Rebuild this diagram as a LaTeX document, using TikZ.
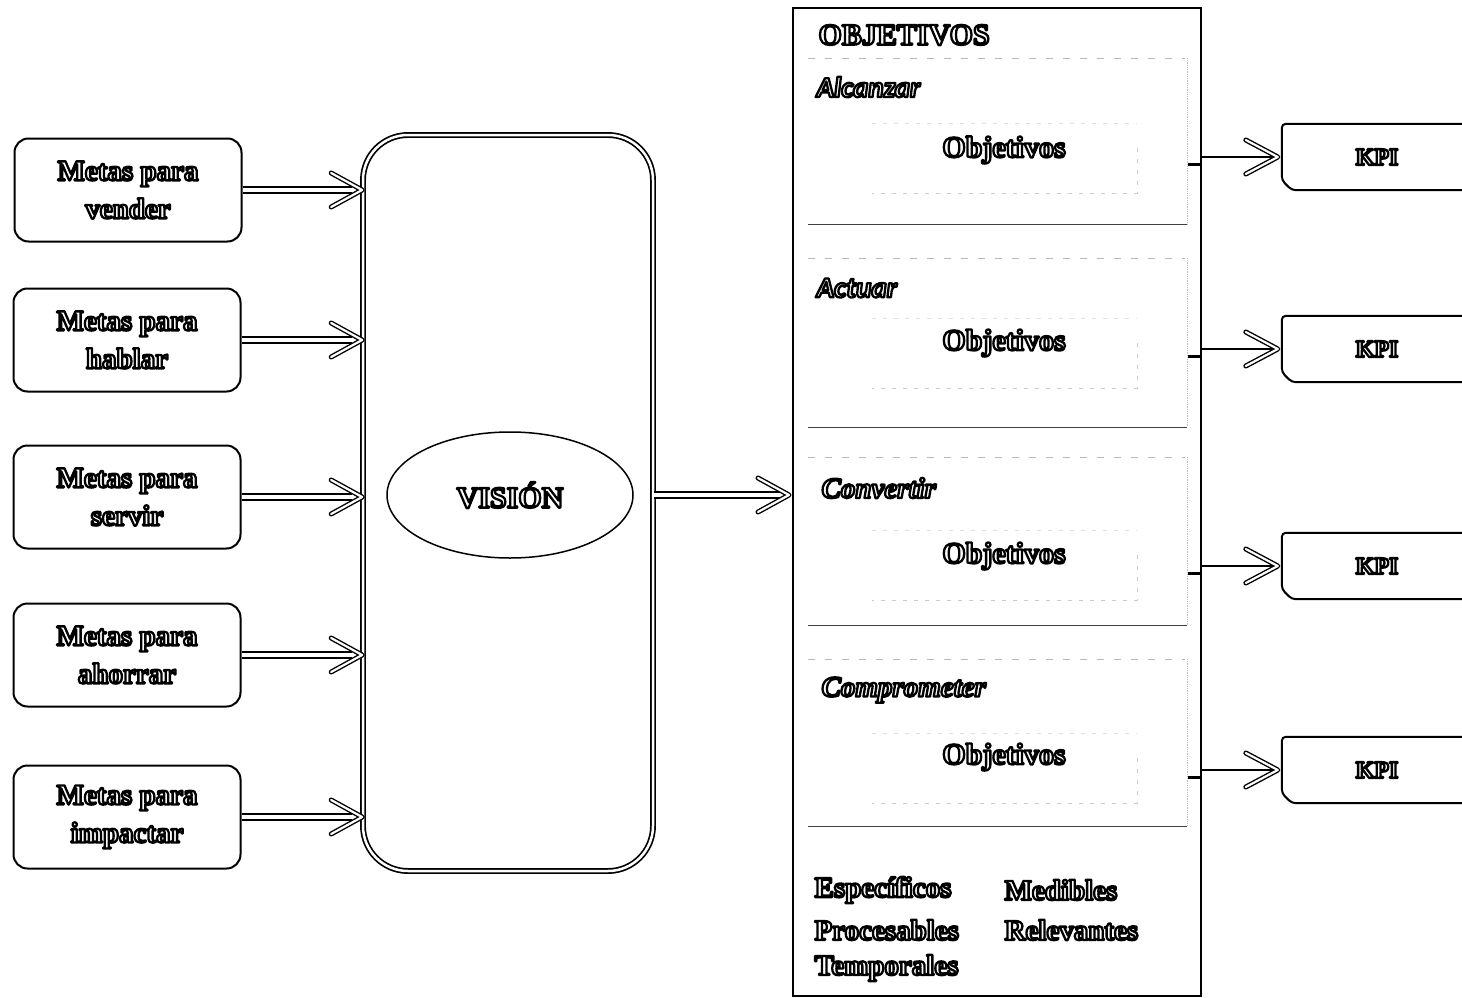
\documentclass[tikz,border=0pt]{standalone}
\usepackage{fontspec}
\setmainfont{Liberation Serif}
\newfontfamily\carl{Carlito}
\usetikzlibrary{calc,shapes.geometric}
\newcommand\outl[1]{\special{pdf:literal direct 1 Tr 2.3 w 1 j}#1\special{pdf:literal direct 0 Tr}}
\begin{document}
\begin{tikzpicture}[x=1pt,y=-1pt,
  metabox/.style={draw,line width=2pt,rounded corners=14pt,minimum width=227pt,minimum height=103pt,align=center,font=\bfseries\fontsize{29}{38}\selectfont},
  dshaft/.style={double,double distance=4.5pt,line width=1.4pt},
  sshaft/.style={line width=1.6pt},
  chev/.style={double,double distance=2.2pt,line width=1.4pt,line join=round,line cap=round},
  lbl/.style={font=\bfseries\fontsize{29}{34}\selectfont},
  seclbl/.style={anchor=west,font=\carl\bfseries\itshape\fontsize{29}{34}\selectfont},
  seclblb/.style={anchor=west,font=\bfseries\itshape\fontsize{29}{34}\selectfont},
  topline/.style={gray!55,dashed,dash pattern=on 7pt off 10pt,line width=0.8pt},
  botline/.style={black!75,line width=1pt},
  sideline/.style={gray!50,densely dotted,line width=0.8pt},
  inner/.style={gray!40,dashed,dash pattern=on 4pt off 7pt,line width=0.6pt},
  kpibox/.style={minimum width=190pt,minimum height=66pt,inner sep=0pt,font=\bfseries\fontsize{24}{28}\selectfont},
  kpiline/.style={line width=2pt,rounded corners=4pt}
]
\clip (0,0) rectangle (1462,998);
\fill[white] (0,0) rectangle (1462,998);

% left boxes
\node[metabox] (m1) at (128,190) {\outl{Metas para}\\\outl{vender}};
\node[metabox] (m2) at (127,340) {\outl{Metas para}\\\outl{hablar}};
\node[metabox] (m3) at (127,497) {\outl{Metas para}\\\outl{servir}};
\node[metabox] (m4) at (127,655) {\outl{Metas para}\\\outl{ahorrar}};
\node[metabox] (m5) at (127,817) {\outl{Metas para}\\\outl{impactar}};

% vision box
\node[draw,double,double distance=2.5pt,line width=1.7pt,rounded corners=45pt,minimum width=290pt,minimum height=736pt] (vis) at (508,503) {};
\node[draw,ellipse,line width=1.5pt,minimum width=246pt,minimum height=126pt,font=\bfseries\fontsize{30}{34}\selectfont] (ell) at (510,495) {\outl{VISIÓN}};

% arrows into vision box
\foreach \m in {m1,m2,m3,m4,m5}{
  \draw[dshaft] (\m.east) -- ($(vis.west |- \m.east)+(-10,0)$);
  \draw[chev] ($(vis.west |- \m.east)+(-31,-17)$) -- (vis.west |- \m.east) -- +(-31,17);
}

% objectives box
\node[draw,line width=2pt,minimum width=408pt,minimum height=988pt,inner sep=0pt] (obj) at (997,502) {};
\draw[dshaft] (vis.east |- ell.center) -- ($(obj.west |- ell.center)+(-12,0)$);
\draw[chev] ($(obj.west |- ell.center)+(-34,-17)$) -- ($(obj.west |- ell.center)+(-3,0)$) -- +(-31,17);

\node[lbl,anchor=west,font=\bfseries\fontsize{30}{34}\selectfont] (tit) at (815,35) {\outl{OBJETIVOS}};

% sections
\foreach \T/\B in {58/224,258/427,457/625,659/826}{
  \draw[topline] (808,\T) -- (1185,\T);
  \draw[sideline] (1187,\T) -- (1187,\B);
  \draw[botline] (808,\B) -- (1187,\B);
}
\foreach \a/\b in {123/193,318/388,530/600,733/803}{
  \draw[inner,gray!25] (872,\a) -- (1137,\a);
  \draw[inner] (1137,\a+25) -- (1137,\b) -- (872,\b);
}
\node[seclbl] (s1) at (813,87) {\outl{Alcanzar}};
\node[seclbl] (s2) at (813,288) {\outl{Actuar}};
\node[seclblb] (s3) at (818,488) {\outl{Convertir}};
\node[seclblb] (s4) at (818,690) {\outl{Comprometer}};
\node[lbl,font=\bfseries\fontsize{30}{34}\selectfont] (o1) at (1004,150) {\outl{Objetivos}};
\node[lbl,font=\bfseries\fontsize{30}{34}\selectfont] (o2) at (1004,343) {\outl{Objetivos}};
\node[lbl,font=\bfseries\fontsize{30}{34}\selectfont] (o3) at (1004,556) {\outl{Objetivos}};
\node[lbl,font=\bfseries\fontsize{30}{34}\selectfont] (o4) at (1004,757) {\outl{Objetivos}};

% KPI boxes
\foreach \k/\y in {k1/157,k2/349,k3/566,k4/770}{
  \node[kpibox] (\k) at (1377,\y) {\outl{KPI}};
  \draw[kpiline] (\k.north east) -- (\k.north west) -- ($(\k.south west)+(0,-10)$) -- ($(\k.south west)+(10,0)$) -- (\k.south east);
  \draw[sshaft] (\k.west -| obj.east) -- ($(\k.west)+(-8,0)$);
  \draw[chev] ($(\k.west)+(-36,-17)$) -- ($(\k.west)+(-4,0)$) -- +(-32,17);
  \draw[line width=3pt] ($(\k.west -| obj.east)+(-14,7)$) -- ($(\k.west -| obj.east)+(0,7)$);
}

% bottom words
\node[lbl,anchor=west] (w1) at (811,890) {\outl{Específicos}};
\node[lbl,anchor=west] (w2) at (1001,890) {\outl{Medibles}};
\node[lbl,anchor=west] (w3) at (811,930) {\outl{Procesables}};
\node[lbl,anchor=west] (w4) at (1001,930) {\outl{Relevantes}};
\node[lbl,anchor=west] (w5) at (811,968) {\outl{Temporales}};
\end{tikzpicture}
\end{document}
